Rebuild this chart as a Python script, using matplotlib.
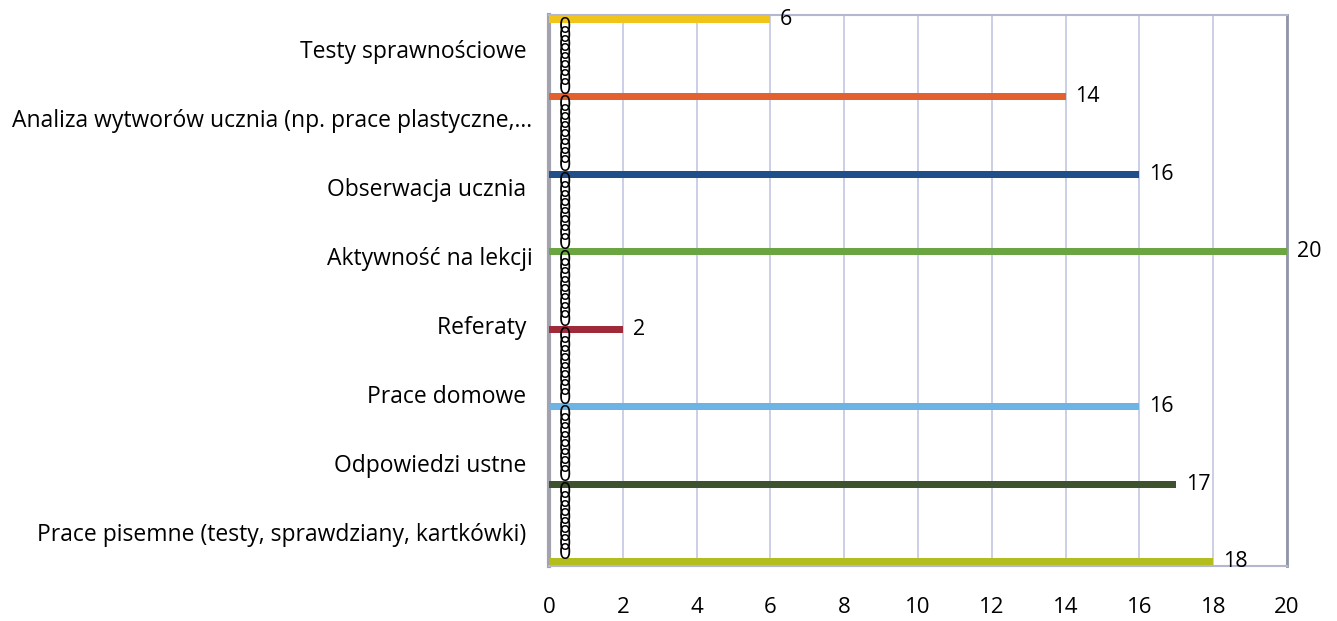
import matplotlib
matplotlib.use('Agg')
import matplotlib.pyplot as plt

# categories listed bottom to top (as Excel draws them)
categories = [
    'Prace pisemne (testy, sprawdziany, kartkówki) ',
    'Odpowiedzi ustne ',
    'Prace domowe ',
    'Referaty ',
    'Aktywność na lekcji',
    'Obserwacja ucznia ',
    'Analiza wytworów ucznia (np. prace plastyczne,…',
    'Testy sprawnościowe ',
]
values = [18, 17, 16, 2, 20, 16, 14, 6]
colors = ['#B3BE1E', '#3E5230', '#6DB3E3', '#9E2A3A', '#6BA542', '#1F4E89', '#E2612F', '#F0C419']
xticks = list(range(0, 21, 2))

plt.rcParams['font.family'] = ['Open Sans', 'DejaVu Sans']

fig = plt.figure(figsize=(13.37, 6.21), dpi=100)
ax = fig.add_axes([549 / 1337, 1 - 566 / 621, (1287 - 549) / 1337, (566 - 15) / 621])

n = len(categories)
slot = 1.0 / n
# each series holds one non-zero value; the rest are zeros, drawn with "0" labels
for j in range(n):
    for i in range(n):
        y = i + (j - (n - 1) / 2) * slot
        v = values[j] if i == j else 0
        if v:
            ax.barh(y, v, height=slot * 0.82, color=colors[j], zorder=3)
        ax.annotate(str(v), (v, y), xytext=(7, 0), textcoords='offset points',
                    ha='left', va='center', fontsize=15.5, color='black', zorder=4)

ax.set_xlim(0, 20)
ax.set_ylim(-0.5, n - 0.5)
ax.set_xticks(xticks)
ax.set_xticklabels([str(t) for t in xticks], fontsize=16)
ax.set_yticks(range(n))
ax.set_yticklabels(categories, fontsize=16.5)
ax.tick_params(length=0, pad=12)
ax.tick_params(axis='x', pad=22)
ax.grid(axis='x', color='#C2C7E2', linewidth=1.2, zorder=0)

for s in ['top', 'bottom']:
    ax.spines[s].set_color('#B4B8CE')
    ax.spines[s].set_linewidth(1.5)
ax.spines['right'].set_color('#9095A8')
ax.spines['right'].set_linewidth(2)
ax.spines['left'].set_color('#A3A3B0')
ax.spines['left'].set_linewidth(3)

fig.savefig('out.png', dpi=100)
